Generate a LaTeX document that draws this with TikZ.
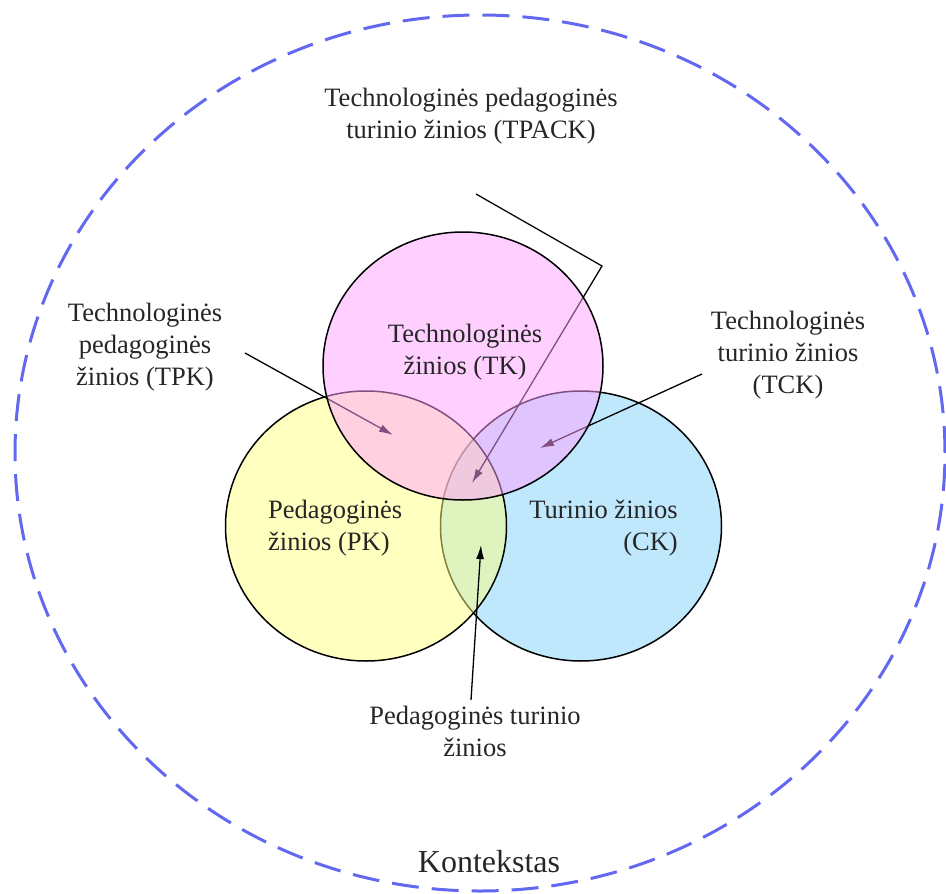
\documentclass[tikz,border=0pt]{standalone}
\usepackage{fontspec}
\setmainfont{Liberation Serif}
\usepackage{tikz}
\usetikzlibrary{arrows.meta, shapes.geometric}
\definecolor{techpink}{RGB}{255, 161, 255}
\definecolor{pedyellow}{RGB}{255, 255, 129}
\definecolor{contblue}{RGB}{129, 209, 249}
\definecolor{ctxblue}{RGB}{98, 104, 240}
\definecolor{labelgray}{RGB}{38, 38, 38}

\begin{document}
\begin{tikzpicture}[x=1pt, y=-1pt,
    setnode/.style={ellipse, draw=black, line width=1.5pt, fill opacity=0.5, draw opacity=1, minimum width=281pt, minimum height=270pt, inner sep=0pt},
    ctxnode/.style={ellipse, draw=ctxblue, line width=3pt, dash pattern=on 27pt off 13pt, minimum width=930pt, minimum height=876pt, inner sep=0pt},
    textnode/.style={inner sep=0pt, align=center, text=labelgray, font=\fontsize{26.5}{32}\selectfont},
    arrow/.style={-{Latex[length=14pt, width=8pt]}, line width=1.3pt, draw=black}
]
    \useasboundingbox (0,0) rectangle (946,894);

    % Context and sets
    \node[ctxnode] (context) at (480,453) {};
    \node[setnode, fill=contblue] (ck) at (581,526) {};
    \node[setnode, fill=pedyellow] (pk) at (366,526) {};

    % Arrow ends
    \coordinate (tpk-tail) at (245,353);
    \coordinate (tpk-tip) at (393,435);
    \coordinate (tck-tail) at (702,374);
    \coordinate (tck-tip) at (540,448);
    \coordinate (tpack-tail) at (476,194);
    \coordinate (tpack-bend) at (602,266);
    \coordinate (tpack-tip) at (472,483);
    \coordinate (pck-tail) at (471,700);
    \coordinate (pck-tip) at (481,545);

    % Edges
    \draw[arrow] (tpk-tail) -- (tpk-tip);
    \draw[arrow] (tck-tail) -- (tck-tip);
    \draw[arrow] (tpack-tail) -- (tpack-bend) -- (tpack-tip);
    \draw[arrow] (pck-tail) -- (pck-tip);

    \node[setnode, fill=techpink, minimum height=268pt, minimum width=280pt] (tk) at (463,366) {};

    % Labels
    \node[textnode] (tpack) at (471,116) {Technologinės pedagoginės\\turinio žinios (TPACK)};
    \node[textnode] (tpk) at (145,347) {Technologinės\\pedagoginės\\žinios (TPK)};
    \node[textnode] (tck) at (788,355) {Technologinės\\turinio žinios\\(TCK)};
    \node[textnode] (tk-label) at (465,352) {Technologinės\\žinios (TK)};
    \node[textnode, anchor=west, align=left] (pk-label) at (268,528) {Pedagoginės\\žinios (PK)};
    \node[textnode, anchor=east, align=right] (ck-label) at (678,528) {Turinio žinios\\(CK)};
    \node[textnode] (pck) at (475,731) {Pedagoginės turinio\\žinios};
    \node[textnode, font=\fontsize{32}{38}\selectfont] (context-label) at (489,862) {Kontekstas};
\end{tikzpicture}
\end{document}
